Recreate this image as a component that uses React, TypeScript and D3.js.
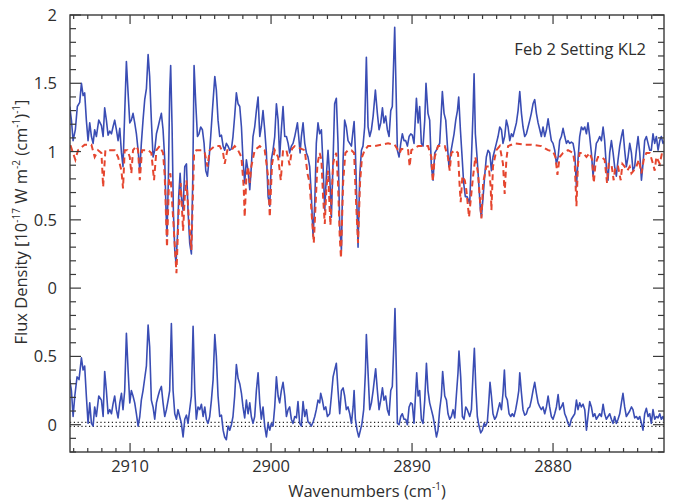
import React from "react";
import * as d3 from "d3";

// Observed spectrum (wavenumber cm^-1, flux density)
const observed: [number, number][] = [
[2914.28,1.33],[2914.16,1.23],[2914.04,1.08],[2913.88,1.16],[2913.74,1.33],[2913.57,1.36],[2913.45,1.50],[2913.33,1.41],[2913.22,1.43],[2913.10,1.23],[2912.98,1.08],[2912.86,1.21],[2912.74,1.11],[2912.62,1.06],[2912.51,1.16],[2912.39,1.11],[2912.22,1.23],[2912.03,1.19],[2911.91,1.11],[2911.80,1.32],[2911.68,1.23],[2911.56,1.12],[2911.44,1.15],[2911.32,1.13],[2911.21,1.18],[2911.09,1.23],[2910.97,1.16],[2910.85,1.08],[2910.73,1.17],[2910.61,0.99],[2910.50,0.89],[2910.38,1.28],[2910.26,1.66],[2910.14,1.43],[2910.02,1.21],[2909.91,1.23],[2909.79,1.28],[2909.67,1.21],[2909.55,1.13],[2909.43,1.01],[2909.31,0.86],[2909.20,1.06],[2909.08,1.23],[2908.96,1.38],[2908.84,1.46],[2908.72,1.71],[2908.61,1.55],[2908.49,1.23],[2908.37,0.96],[2908.25,1.01],[2908.13,1.13],[2908.01,1.18],[2907.90,1.23],[2907.78,1.28],[2907.66,1.16],[2907.54,0.94],[2907.45,0.57],[2907.38,0.38],[2907.28,0.82],[2907.19,1.43],[2907.12,1.63],[2907.02,1.18],[2906.93,0.57],[2906.83,0.28],[2906.74,0.18],[2906.64,0.38],[2906.55,0.67],[2906.45,0.84],[2906.36,0.67],[2906.24,0.57],[2906.12,0.89],[2906.00,0.91],[2905.89,0.57],[2905.77,0.33],[2905.65,0.25],[2905.55,0.82],[2905.46,1.63],[2905.34,1.35],[2905.22,1.11],[2905.11,1.13],[2904.99,1.18],[2904.87,1.16],[2904.75,1.06],[2904.63,0.86],[2904.51,0.82],[2904.40,0.94],[2904.28,1.11],[2904.16,1.30],[2903.99,1.55],[2903.88,1.45],[2903.76,1.23],[2903.64,1.11],[2903.52,1.12],[2903.40,1.04],[2903.29,1.01],[2903.17,1.06],[2903.05,1.04],[2902.93,1.01],[2902.81,1.02],[2902.70,1.11],[2902.58,1.26],[2902.46,1.43],[2902.34,1.35],[2902.22,1.33],[2902.10,1.18],[2901.99,0.94],[2901.87,0.77],[2901.75,0.94],[2901.63,0.86],[2901.51,0.72],[2901.40,0.89],[2901.28,1.11],[2901.16,1.18],[2901.04,1.30],[2900.92,1.40],[2900.80,1.11],[2900.69,1.18],[2900.57,1.30],[2900.45,1.16],[2900.33,0.99],
[2900.21,0.67],[2900.09,0.60],[2899.98,0.94],[2899.86,1.01],[2899.74,1.11],[2899.62,1.35],[2899.50,1.23],[2899.39,0.96],[2899.27,1.16],[2899.15,1.33],[2899.03,1.11],[2898.91,1.11],[2898.79,1.06],[2898.68,0.99],[2898.56,1.04],[2898.44,1.06],[2898.32,1.11],[2898.13,1.21],[2898.04,1.11],[2897.94,0.99],[2897.85,1.11],[2897.73,1.21],[2897.61,1.06],[2897.49,0.99],[2897.38,0.96],[2897.26,0.89],[2897.14,0.67],[2897.02,0.38],[2896.90,0.62],[2896.79,1.06],[2896.67,1.21],[2896.55,1.13],[2896.43,1.16],[2896.31,0.89],[2896.19,0.57],[2896.08,0.82],[2895.96,1.01],[2895.84,0.82],[2895.72,0.52],[2895.60,0.94],[2895.49,1.35],[2895.37,1.39],[2895.25,1.06],[2895.13,0.45],[2895.01,0.28],[2894.89,0.94],[2894.78,1.23],[2894.66,1.18],[2894.54,1.08],[2894.42,1.06],[2894.30,1.04],[2894.18,1.16],[2894.11,1.22],[2894.02,1.01],[2893.90,0.57],[2893.83,0.30],[2893.71,0.82],[2893.59,1.01],[2893.48,1.04],[2893.36,1.18],[2893.24,1.69],[2893.12,1.18],[2893.00,1.11],[2892.88,1.16],[2892.76,1.26],[2892.60,1.45],[2892.46,1.28],[2892.34,1.16],[2892.22,1.21],[2892.10,1.32],[2891.99,1.21],[2891.87,1.26],[2891.75,1.16],[2891.63,1.11],[2891.51,1.30],[2891.40,1.33],[2891.28,1.74],[2891.23,1.91],[2891.13,1.43],[2891.04,1.01],[2890.92,0.96],[2890.80,1.06],[2890.69,1.13],[2890.57,1.08],[2890.45,1.08],[2890.33,1.04],[2890.21,1.11],[2890.09,1.13],[2889.98,1.12],[2889.86,1.06],[2889.69,1.39],[2889.57,1.21],[2889.46,1.33],[2889.34,1.06],[2889.22,1.04],[2889.10,1.23],[2889.01,1.50],[2888.87,1.28],[2888.75,1.23],[2888.63,0.89],[2888.51,0.79],[2888.39,0.99],[2888.27,1.01],[2888.16,1.04],[2888.04,1.06],[2887.92,1.30],[2887.85,1.44],[2887.73,1.28],[2887.61,1.23],[2887.49,1.04],[2887.38,0.89],[2887.26,0.99],[2887.14,1.06],[2887.02,1.13],[2886.90,1.23],[2886.78,1.30],[2886.69,1.40],[2886.57,1.16],[2886.45,0.96],[2886.34,0.77],[2886.22,0.67],[2886.10,0.67],
[2885.91,0.62],[2885.79,0.94],[2885.67,1.30],[2885.60,1.57],[2885.51,1.13],[2885.39,0.96],[2885.27,0.77],[2885.15,0.57],[2885.08,0.52],[2884.96,0.67],[2884.85,0.82],[2884.73,0.96],[2884.61,1.01],[2884.49,0.99],[2884.37,0.86],[2884.26,0.96],[2884.14,1.01],[2884.02,1.06],[2883.90,1.11],[2883.78,1.18],[2883.66,1.16],[2883.55,1.06],[2883.43,1.11],[2883.31,1.23],[2883.19,1.18],[2883.07,1.08],[2882.95,1.13],[2882.84,1.11],[2882.72,1.16],[2882.60,1.21],[2882.48,1.30],[2882.36,1.44],[2882.24,1.28],[2882.13,1.18],[2882.01,1.11],[2881.89,1.13],[2881.77,1.18],[2881.65,1.23],[2881.54,1.28],[2881.42,1.35],[2881.30,1.38],[2881.18,1.28],[2881.06,1.21],[2880.94,1.16],[2880.83,1.11],[2880.71,1.18],[2880.59,1.11],[2880.47,1.16],[2880.35,1.24],[2880.24,1.16],[2880.12,1.08],[2880.00,1.06],[2879.88,1.01],[2879.76,0.91],[2879.64,0.96],[2879.53,1.08],[2879.41,1.11],[2879.29,1.17],[2879.17,1.11],[2879.05,1.06],[2878.94,1.08],[2878.82,1.06],[2878.70,1.07],[2878.58,1.06],[2878.46,0.99],[2878.34,0.74],[2878.23,0.94],[2878.11,1.11],[2877.99,1.18],[2877.87,1.16],[2877.75,1.18],[2877.63,1.13],[2877.52,1.21],[2877.40,1.11],[2877.28,0.99],[2877.16,0.82],[2877.04,0.96],[2876.93,1.06],[2876.81,1.08],[2876.69,1.11],[2876.57,1.08],[2876.45,1.18],[2876.34,1.08],[2876.22,0.89],[2876.10,0.79],[2875.98,0.99],[2875.86,1.08],[2875.74,0.99],[2875.63,0.89],[2875.51,0.82],[2875.39,0.94],[2875.27,1.04],[2875.15,1.11],[2875.04,1.16],[2874.92,1.01],[2874.80,0.89],[2874.68,0.96],[2874.56,1.06],[2874.44,0.99],[2874.33,0.86],[2874.21,0.89],[2874.09,1.01],[2873.97,1.11],[2873.85,0.99],[2873.73,0.79],[2873.62,0.91],[2873.50,1.08],[2873.38,1.11],[2873.26,1.06],[2873.14,1.01],[2873.03,1.01],[2872.91,1.13],[2872.79,1.06],[2872.67,1.11],[2872.55,1.01],[2872.43,1.08],[2872.32,1.11],[2872.20,1.06],[2872.08,1.08]
];

// Model spectrum (red dashed)
const model: [number, number][] = [
[2914.26,1.04],[2914.21,1.04],[2913.88,0.94],[2913.69,1.01],[2913.22,1.05],[2912.74,1.05],[2912.51,0.96],[2912.27,1.01],[2912.03,0.99],[2911.91,0.74],[2911.75,1.01],[2911.44,1.01],[2911.09,1.01],[2910.85,0.96],[2910.61,0.86],[2910.50,0.73],[2910.38,1.01],[2910.19,1.01],[2910.02,0.96],[2909.91,0.84],[2909.79,1.01],[2909.55,1.04],[2909.43,1.01],[2909.31,0.79],[2909.15,1.01],[2908.72,1.01],[2908.49,0.99],[2908.30,0.79],[2908.13,1.01],[2907.90,1.04],[2907.66,0.99],[2907.54,0.82],[2907.38,0.30],[2907.23,0.82],[2907.14,0.84],[2906.95,0.52],[2906.71,0.11],[2906.55,0.57],[2906.41,0.77],[2906.24,0.42],[2906.12,0.67],[2906.00,0.79],[2905.84,0.52],[2905.65,0.28],[2905.46,0.99],[2905.30,1.01],[2904.94,1.01],[2904.70,0.99],[2904.51,0.89],[2904.35,1.01],[2903.99,1.04],[2903.64,1.04],[2903.40,0.99],[2903.29,0.91],[2903.10,1.01],[2902.81,1.01],[2902.58,1.04],[2902.34,1.01],[2902.10,0.96],[2901.94,0.74],[2901.87,0.52],[2901.75,0.82],[2901.63,0.89],[2901.51,0.77],[2901.40,0.89],[2901.16,1.01],[2900.80,1.04],[2900.45,1.01],[2900.21,0.82],[2900.09,0.52],[2899.93,0.91],[2899.74,1.01],[2899.50,0.96],[2899.31,0.79],[2899.15,1.01],[2898.91,1.01],[2898.68,0.90],[2898.51,1.02],[2898.32,1.04],[2897.85,1.02],[2897.61,1.01],[2897.42,0.84],[2897.26,0.77],[2897.14,0.57],[2896.97,0.33],[2896.86,0.57],[2896.71,0.91],[2896.55,0.99],[2896.43,0.94],[2896.31,0.67],[2896.19,0.47],[2896.08,0.72],[2895.96,0.86],[2895.79,0.46],[2895.60,0.91],[2895.49,0.96],[2895.37,0.99],[2895.25,0.77],[2895.13,0.38],[2895.04,0.22],[2894.89,0.77],[2894.73,0.99],[2894.54,1.01],[2894.30,1.01],[2894.11,0.99],[2893.99,0.67],[2893.83,0.33],[2893.69,0.77],[2893.55,0.96],[2893.36,1.01],[2893.12,1.04],[2892.65,1.04],[2892.17,1.05],[2891.70,1.06],[2891.23,1.05],[2890.99,1.01],[2890.87,0.99],[2890.76,1.02],[2890.28,1.01],[2890.17,0.89],[2890.05,1.01],[2889.57,1.04],[2888.87,1.04],[2888.63,0.96],[2888.53,0.78],[2888.39,0.96],[2888.16,1.04],[2887.68,1.04],[2887.45,0.96],[2887.33,0.86],[2887.21,0.99],[2886.97,1.01],[2886.74,0.99],[2886.62,0.74],[2886.55,0.63],[2886.43,0.82],[2886.26,0.79],[2886.15,0.72],[2885.96,0.52],[2885.67,0.82],[2885.51,0.96],[2885.32,0.84],[2885.20,0.67],[2885.08,0.51],[2884.96,0.77],[2884.73,0.89],[2884.56,0.89],[2884.42,0.74],[2884.37,0.57],[2884.26,0.89],[2884.02,1.01],[2883.78,1.04],[2883.55,0.91],[2883.43,0.69],[2883.31,0.94],[2883.19,1.04],[2882.72,1.06],[2882.01,1.05],[2881.54,1.05],[2880.83,1.04],[2880.35,1.01],[2880.00,1.00],[2879.83,0.96],[2879.69,0.83],[2879.53,0.96],[2879.29,0.99],[2878.94,1.01],[2878.58,0.99],[2878.46,0.91],[2878.34,0.60],[2878.23,0.91],[2878.11,0.99],[2877.87,0.99],[2877.63,0.96],[2877.40,0.99],[2877.23,0.94],[2877.11,0.77],[2876.99,0.91],[2876.81,0.96],[2876.57,0.96],[2876.34,0.94],[2876.17,0.77],[2876.05,0.91],[2875.86,0.91],[2875.70,0.79],[2875.58,0.89],[2875.39,0.89],[2875.20,0.79],[2875.08,0.91],[2874.92,0.89],[2874.73,0.86],[2874.56,0.89],[2874.44,0.84],[2874.28,0.86],[2874.09,0.89],[2873.92,0.94],[2873.73,0.84],[2873.57,0.94],[2873.38,0.99],[2873.14,0.99],[2872.91,0.91],[2872.79,0.86],[2872.67,0.96],[2872.43,0.91],[2872.27,0.99],[2872.08,1.01]
];

// Residual (observed - model), plotted in the lower panel
const residual: [number, number][] = [
[2914.28,0.33],[2914.16,0.25],[2914.04,0.06],[2913.92,0.21],[2913.76,0.35],[2913.62,0.33],[2913.45,0.49],[2913.33,0.40],[2913.22,0.43],[2913.10,0.21],[2912.98,0.01],[2912.86,0.16],[2912.74,0.01],[2912.62,-0.01],[2912.51,0.13],[2912.39,0.06],[2912.22,0.21],[2912.03,0.18],[2911.91,0.06],[2911.80,0.39],[2911.68,0.25],[2911.56,0.08],[2911.44,0.11],[2911.32,0.08],[2911.21,0.15],[2911.09,0.21],[2910.97,0.11],[2910.85,0.05],[2910.73,0.16],[2910.61,0.23],[2910.50,0.11],[2910.38,0.25],[2910.26,0.67],[2910.14,0.40],[2910.02,0.16],[2909.91,0.25],[2909.79,0.21],[2909.67,0.16],[2909.55,0.08],[2909.43,-0.01],[2909.31,0.06],[2909.20,0.18],[2909.08,0.25],[2908.96,0.34],[2908.84,0.43],[2908.72,0.73],[2908.61,0.57],[2908.49,0.18],[2908.37,0.13],[2908.25,0.04],[2908.13,0.16],[2908.01,0.21],[2907.90,0.25],[2907.78,0.28],[2907.66,0.16],[2907.54,0.06],[2907.42,0.11],[2907.30,0.18],[2907.19,0.25],[2907.07,0.74],[2906.95,0.25],[2906.83,0.08],[2906.71,0.04],[2906.60,0.11],[2906.48,0.06],[2906.36,0.01],[2906.24,-0.09],[2906.12,0.04],[2906.00,0.07],[2905.89,0.01],[2905.77,0.11],[2905.65,0.21],[2905.53,0.72],[2905.41,0.25],[2905.30,0.04],[2905.18,0.13],[2905.06,0.11],[2904.94,0.15],[2904.82,0.06],[2904.70,0.13],[2904.59,0.04],[2904.47,0.01],[2904.35,0.06],[2904.23,0.18],[2904.11,0.33],[2903.99,0.66],[2903.88,0.50],[2903.76,0.21],[2903.64,0.06],[2903.52,0.07],[2903.40,-0.04],[2903.29,-0.09],[2903.17,-0.11],[2903.05,-0.01],[2902.93,-0.04],[2902.81,0.00],[2902.70,0.06],[2902.58,0.21],[2902.46,0.44],[2902.34,0.34],[2902.22,0.30],[2902.10,0.23],[2901.99,0.13],[2901.87,0.05],[2901.75,0.18],[2901.63,0.08],[2901.51,0.16],[2901.40,0.06],[2901.28,0.01],[2901.16,0.06],[2901.04,0.25],[2900.92,0.38],[2900.80,0.16],[2900.69,0.04],[2900.57,0.13],[2900.45,-0.01],[2900.33,-0.09],
[2900.21,0.01],[2900.09,-0.04],[2899.98,0.01],[2899.86,-0.01],[2899.74,0.13],[2899.62,0.35],[2899.50,0.21],[2899.39,0.16],[2899.27,0.25],[2899.15,0.31],[2899.03,0.21],[2898.91,0.06],[2898.79,0.11],[2898.68,0.13],[2898.56,0.04],[2898.44,0.01],[2898.32,0.06],[2898.20,0.05],[2898.09,0.17],[2897.97,0.01],[2897.85,-0.01],[2897.73,0.17],[2897.61,0.06],[2897.49,0.11],[2897.38,0.02],[2897.26,0.01],[2897.14,-0.01],[2897.02,0.02],[2896.90,0.06],[2896.79,0.11],[2896.67,0.18],[2896.55,0.16],[2896.48,0.23],[2896.36,0.18],[2896.24,0.11],[2896.12,0.13],[2896.00,0.06],[2895.84,0.08],[2895.72,0.21],[2895.60,0.35],[2895.49,0.40],[2895.37,0.45],[2895.25,0.25],[2895.13,0.08],[2895.01,0.25],[2894.89,0.27],[2894.78,0.21],[2894.66,0.11],[2894.54,0.13],[2894.42,0.08],[2894.30,0.01],[2894.18,0.13],[2894.11,0.25],[2894.02,0.04],[2893.90,-0.04],[2893.78,-0.09],[2893.66,-0.04],[2893.55,0.01],[2893.43,0.11],[2893.31,0.38],[2893.24,0.66],[2893.12,0.38],[2893.00,0.11],[2892.88,0.16],[2892.76,0.25],[2892.65,0.35],[2892.58,0.41],[2892.46,0.25],[2892.34,0.11],[2892.22,0.18],[2892.10,0.27],[2891.99,0.18],[2891.87,0.21],[2891.75,0.11],[2891.63,0.07],[2891.51,0.25],[2891.40,0.28],[2891.28,0.62],[2891.21,0.85],[2891.11,0.38],[2891.04,0.01],[2890.92,0.00],[2890.80,0.06],[2890.69,0.08],[2890.57,0.04],[2890.45,0.04],[2890.33,0.00],[2890.21,0.13],[2890.09,0.16],[2889.98,0.15],[2889.86,0.01],[2889.67,0.38],[2889.57,0.21],[2889.46,0.25],[2889.34,0.04],[2889.22,0.01],[2889.10,0.18],[2888.98,0.45],[2888.87,0.25],[2888.75,0.16],[2888.63,0.11],[2888.51,0.06],[2888.39,-0.01],[2888.27,-0.09],[2888.16,-0.04],[2888.04,0.11],[2887.92,0.21],[2887.83,0.39],[2887.68,0.21],[2887.56,0.18],[2887.45,0.08],[2887.33,0.04],[2887.21,0.06],[2887.09,0.11],[2886.97,0.05],[2886.86,0.21],[2886.74,0.38],[2886.67,0.54],[2886.55,0.35],[2886.43,0.06],[2886.31,0.04],[2886.19,0.13],[2886.08,0.11],
[2885.91,0.06],[2885.79,0.11],[2885.67,0.38],[2885.58,0.56],[2885.48,0.28],[2885.37,0.06],[2885.25,-0.01],[2885.13,-0.06],[2885.01,-0.04],[2884.89,0.01],[2884.78,-0.01],[2884.66,0.02],[2884.56,0.16],[2884.47,0.31],[2884.37,0.21],[2884.26,0.08],[2884.14,0.04],[2884.02,0.06],[2883.90,0.11],[2883.78,0.16],[2883.66,0.11],[2883.55,0.23],[2883.45,0.40],[2883.36,0.21],[2883.24,0.18],[2883.12,0.08],[2883.00,0.06],[2882.89,0.08],[2882.77,0.06],[2882.65,0.11],[2882.53,0.18],[2882.43,0.25],[2882.36,0.38],[2882.24,0.23],[2882.13,0.11],[2882.01,0.07],[2881.89,0.08],[2881.77,0.12],[2881.65,0.13],[2881.54,0.18],[2881.42,0.25],[2881.30,0.31],[2881.18,0.23],[2881.06,0.16],[2880.94,0.13],[2880.83,0.11],[2880.71,0.13],[2880.59,0.08],[2880.47,0.13],[2880.35,0.21],[2880.24,0.13],[2880.12,0.06],[2880.00,0.04],[2879.88,0.08],[2879.76,0.13],[2879.64,0.22],[2879.53,0.11],[2879.41,0.13],[2879.29,0.16],[2879.17,0.08],[2879.05,0.05],[2878.94,0.01],[2878.82,-0.01],[2878.70,0.04],[2878.58,0.06],[2878.46,0.08],[2878.34,0.18],[2878.23,0.11],[2878.11,0.16],[2877.99,0.13],[2877.87,0.15],[2877.75,0.11],[2877.63,-0.04],[2877.52,0.06],[2877.40,0.17],[2877.28,0.13],[2877.16,0.06],[2877.04,0.08],[2876.93,0.04],[2876.81,0.06],[2876.69,0.08],[2876.57,0.06],[2876.45,0.15],[2876.34,0.08],[2876.22,0.04],[2876.10,0.06],[2875.98,0.08],[2875.86,0.04],[2875.74,0.01],[2875.63,0.06],[2875.51,0.01],[2875.39,0.04],[2875.27,0.08],[2875.15,0.16],[2875.04,0.23],[2874.92,0.13],[2874.80,0.06],[2874.68,0.08],[2874.56,0.10],[2874.44,0.13],[2874.33,0.11],[2874.21,0.05],[2874.09,0.06],[2873.97,0.04],[2873.85,0.06],[2873.73,0.01],[2873.62,-0.04],[2873.50,0.08],[2873.38,0.12],[2873.26,0.06],[2873.14,0.08],[2873.03,0.01],[2872.91,0.11],[2872.79,0.04],[2872.67,0.06],[2872.55,0.05],[2872.43,0.08],[2872.32,0.04],[2872.20,0.06],[2872.08,0.02]
];

// Axis configuration values
const xDomain: [number, number] = [2914.26, 2872.13];
const xMajorTicks = [2910, 2900, 2890, 2880];
const yDomain: [number, number] = [-1.2, 2];
const residualOffset = -1; // lower panel shifted down by 1 unit
const yMajorTicks = [2, 1.5, 1, 0.5, 0, -0.5, -1];
const yTickLabels = ["2", "1.5", "1", "0.5", "0", "0.5", "0"];
const noiseLevels = [0.017, -0.012];
const annotation = "Feb 2 Setting KL2";

const W = 678, H = 504;
const M = { left: 70, right: 664, top: 15, bottom: 452 };
const FONT = "'Open Sans', 'Noto Sans', sans-serif";
const TXT = "#2e2e2e";
const BLUE = "#3a4db4";
const RED = "#e5462f";

export default function App() {
  const x = d3.scaleLinear().domain(xDomain).range([M.left, M.right]);
  const y = d3.scaleLinear().domain(yDomain).range([M.bottom, M.top]);

  const lineObs = d3.line<[number, number]>().x(d => x(d[0])).y(d => y(d[1]));
  const lineModel = d3.line<[number, number]>().x(d => x(d[0])).y(d => y(d[1]));
  const lineRes = d3.line<[number, number]>().x(d => x(d[0])).y(d => y(d[1] + residualOffset));

  const xMinor = d3.range(Math.ceil(xDomain[1]), Math.floor(xDomain[0]) + 1, 1);
  const yMinor = d3.range(-12, 21, 1).map(v => v / 10);

  return (
    <svg width={W} height={H} style={{ position: "absolute", left: 0, top: 0, background: "#fff" }} fontFamily={FONT}>
      <defs>
        <clipPath id="plot">
          <rect x={M.left} y={M.top} width={M.right - M.left} height={M.bottom - M.top} />
        </clipPath>
      </defs>
      <g clipPath="url(#plot)">
        {noiseLevels.map((n, i) => (
          <line key={i} x1={M.left} x2={M.right} y1={y(n + residualOffset)} y2={y(n + residualOffset)}
            stroke="#222" strokeWidth={1.1} strokeDasharray="1.2,2.6" />
        ))}
        <path d={lineObs(observed) || ""} fill="none" stroke={BLUE} strokeWidth={1.6} strokeLinejoin="round" />
        <path d={lineModel(model) || ""} fill="none" stroke={RED} strokeWidth={2} strokeDasharray="6,4" />
        <path d={lineRes(residual) || ""} fill="none" stroke={BLUE} strokeWidth={1.6} strokeLinejoin="round" />
      </g>
      <rect x={M.left} y={M.top} width={M.right - M.left} height={M.bottom - M.top} fill="none" stroke="#3a3a3a" strokeWidth={1.4} />
      {xMinor.map(v => {
        const major = xMajorTicks.includes(v);
        const len = major ? 9 : 4;
        return (
          <g key={"x" + v}>
            <line x1={x(v)} x2={x(v)} y1={M.bottom} y2={M.bottom - len} stroke="#3a3a3a" strokeWidth={1.2} />
            <line x1={x(v)} x2={x(v)} y1={M.top} y2={M.top + len} stroke="#3a3a3a" strokeWidth={1.2} />
          </g>
        );
      })}
      {yMinor.map(v => {
        const major = Math.abs(v * 2 - Math.round(v * 2)) < 1e-6;
        const len = major ? 11 : 6;
        return (
          <g key={"y" + v}>
            <line x1={M.left} x2={M.left + len} y1={y(v)} y2={y(v)} stroke="#3a3a3a" strokeWidth={1.2} />
            <line x1={M.right} x2={M.right - len} y1={y(v)} y2={y(v)} stroke="#3a3a3a" strokeWidth={1.2} />
          </g>
        );
      })}
      {xMajorTicks.map(v => (
        <text key={"xl" + v} x={x(v)} y={472} textAnchor="middle" fontSize={16.5} fill={TXT}>{v}</text>
      ))}
      {yMajorTicks.map((v, i) => (
        <text key={"yl" + i} x={57} y={y(v)} dy="0.36em" textAnchor="end" fontSize={16.5} fill={TXT}>{yTickLabels[i]}</text>
      ))}
      <text x={(M.left + M.right) / 2} y={497} textAnchor="middle" fontSize={16.5} fill={TXT}>
        Wavenumbers (cm<tspan fontSize={10} dy={-7}>-1</tspan><tspan dy={7}>)</tspan>
      </text>
      <text transform={`translate(27,222) rotate(-90)`} textAnchor="middle" fontSize={16.5} fill={TXT}>
        Flux Density [10<tspan fontSize={10} dy={-7}>-17</tspan><tspan dy={7}> W m</tspan><tspan fontSize={10} dy={-7}>-2</tspan><tspan dy={7}> (cm</tspan><tspan fontSize={10} dy={-7}>-1</tspan><tspan dy={7}>)</tspan><tspan fontSize={10} dy={-7}>-1</tspan><tspan dy={7}>]</tspan>
      </text>
      <text x={646} y={55} textAnchor="end" fontSize={16.5} fill={TXT}>{annotation}</text>
    </svg>
  );
}
